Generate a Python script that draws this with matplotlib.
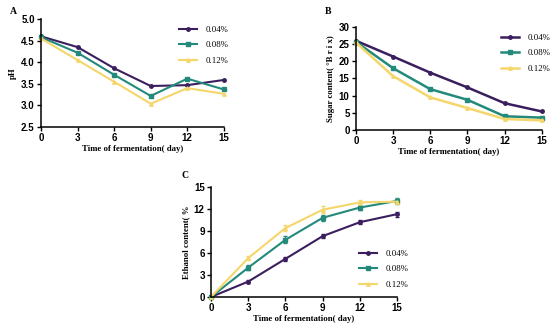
import matplotlib
matplotlib.use("Agg")
import matplotlib.pyplot as plt
import numpy as np

days = [0, 3, 6, 9, 12, 15]
series = ["0.04%", "0.08%", "0.12%"]
colors = ["#3b1e5e", "#23897b", "#f5d66a"]
markers = ["o", "s", "^"]

ph_004 = [4.60, 4.35, 3.86, 3.45, 3.47, 3.59]
ph_008 = [4.58, 4.22, 3.71, 3.22, 3.62, 3.37]
ph_012 = [4.55, 4.05, 3.55, 3.04, 3.40, 3.27]

sugar_004 = [26.0, 21.4, 16.7, 12.4, 7.8, 5.4]
sugar_008 = [25.7, 18.0, 11.9, 8.8, 4.0, 3.6]
sugar_012 = [25.5, 15.7, 9.5, 6.4, 3.2, 2.8]

eth_004 = [0.0, 2.1, 5.2, 8.3, 10.2, 11.3]
eth_008 = [0.0, 4.0, 7.8, 10.8, 12.2, 13.1]
eth_012 = [0.0, 5.3, 9.4, 11.9, 12.9, 13.0]
eth_err_004 = [0.0, 0.2, 0.25, 0.3, 0.3, 0.35]
eth_err_008 = [0.0, 0.3, 0.45, 0.45, 0.35, 0.45]
eth_err_012 = [0.0, 0.25, 0.35, 0.45, 0.35, 0.35]

TICK_FAM = "Liberation Sans"
TICK_SIZE = 7
lab_font = dict(family="Liberation Serif", weight="bold", size=6.3)

fig = plt.figure(figsize=(5.5, 3.25), dpi=100)

def style(ax, ylim, yticks, ylabel, fmt=None):
    ax.set_xlim(0, 15)
    ax.set_ylim(*ylim)
    ax.set_xticks(days)
    ax.set_yticks(yticks)
    if fmt:
        ax.yaxis.set_major_formatter(matplotlib.ticker.FormatStrFormatter(fmt))
    for s in ["top", "right"]:
        ax.spines[s].set_visible(False)
    for s in ["left", "bottom"]:
        ax.spines[s].set_linewidth(1.1)
    ax.tick_params(direction="out", length=3, width=1.0, pad=1.5)
    for lab in ax.get_xticklabels() + ax.get_yticklabels():
        lab.set_fontfamily(TICK_FAM)
        lab.set_fontweight("bold")
        lab.set_fontsize(TICK_SIZE)
    ax.set_xlabel("Time of fermentation( day)", labelpad=1.5, **lab_font)
    ax.set_ylabel(ylabel, labelpad=3, **lab_font)

def leg(ax, anchor, handles):
    ax.legend(handles=handles, labels=series, loc="upper left", bbox_to_anchor=anchor,
              bbox_transform=fig.transFigure,
              frameon=False, prop=dict(family="Liberation Serif", size=6.3),
              handlelength=2.0, labelspacing=0.85, handletextpad=1.0, borderpad=0)

# Panel A
axA = fig.add_axes([0.0745, 0.609, 0.3325, 0.3325])
hA = []
for vals, c, m in zip([ph_004, ph_008, ph_012], colors, markers):
    hA += axA.plot(days, vals, color=c, lw=1.5, marker=m, ms=2.5, clip_on=False)
style(axA, (2.5, 5.0), [2.5, 3.0, 3.5, 4.0, 4.5, 5.0], "pH", "%.1f")
leg(axA, (0.318, 0.935), hA)
fig.text(0.018, 0.965, "A", fontsize=7, weight="bold", family="Liberation Serif", va="center")

# Panel B
axB = fig.add_axes([0.647, 0.6, 0.338, 0.317])
hB = []
for vals, c, m in zip([sugar_004, sugar_008, sugar_012], colors, markers):
    hB += axB.plot(days, vals, color=c, lw=1.8, marker=m, ms=2.5, clip_on=False)
style(axB, (0, 30), [0, 5, 10, 15, 20, 25, 30], "Sugar content( °B r i x)")
leg(axB, (0.903, 0.91), hB)
fig.text(0.59, 0.965, "B", fontsize=7, weight="bold", family="Liberation Serif", va="center")

# Panel C
axC = fig.add_axes([0.3836, 0.0862, 0.3384, 0.3384])
hC = []
for vals, errs, c, m in zip([eth_004, eth_008, eth_012],
                            [eth_err_004, eth_err_008, eth_err_012], colors, markers):
    cont = axC.errorbar(days, vals, yerr=errs, color=c, lw=1.5, marker=m, ms=2.5,
                        capsize=1.5, elinewidth=0.8, clip_on=False)
    hC.append(cont[0])
style(axC, (0, 15), [0, 3, 6, 9, 12, 15], "Ethanol content( %")
leg(axC, (0.645, 0.245), hC)
fig.text(0.33, 0.46, "C", fontsize=7, weight="bold", family="Liberation Serif", va="center")

fig.savefig("out.png", dpi=100)
